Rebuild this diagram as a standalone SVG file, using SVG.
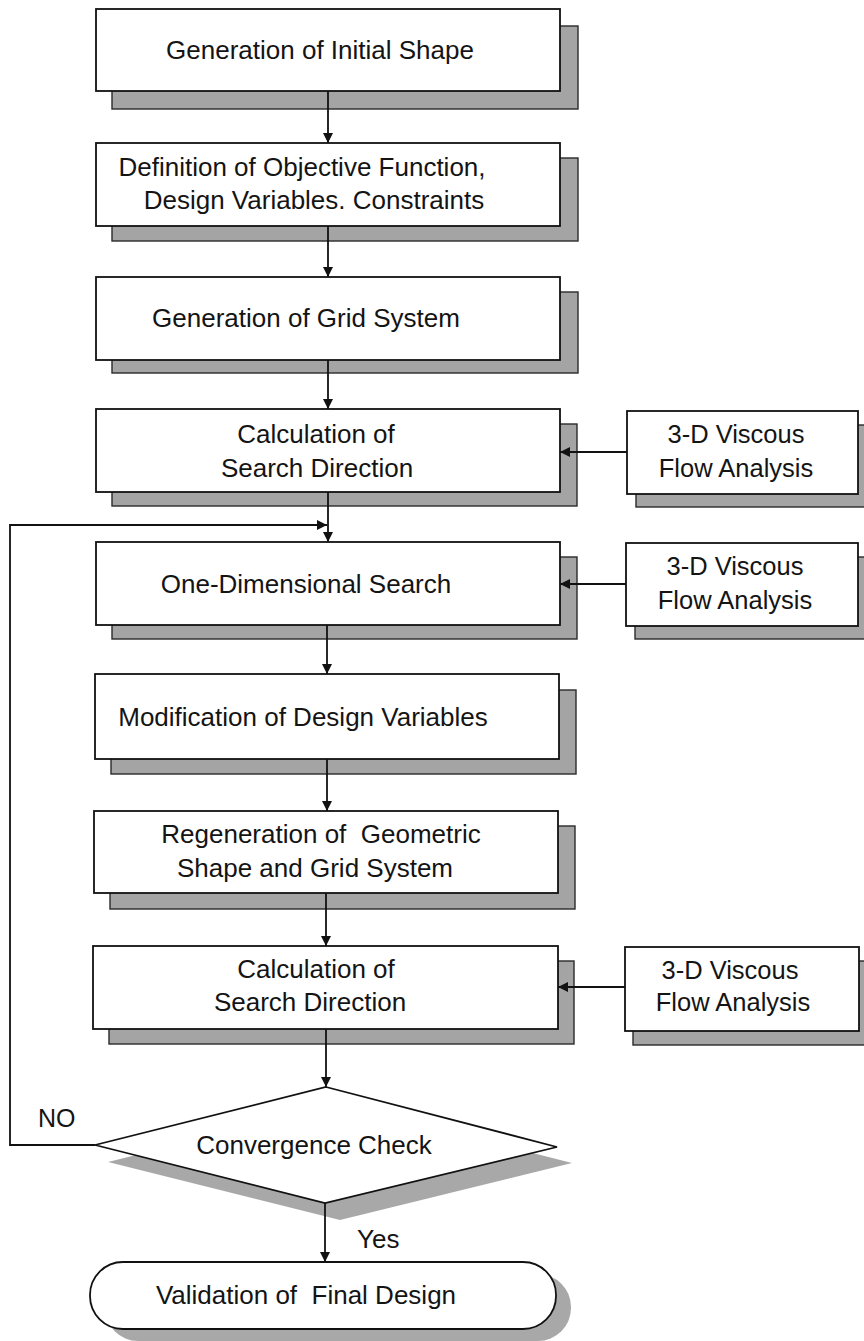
<svg xmlns="http://www.w3.org/2000/svg" width="864" height="1341" viewBox="0 0 864 1341">
<style>
  .box{fill:#fff;stroke:#111;stroke-width:1.8}
  .sh{fill:#a4a4a4;stroke:#2a2a2a;stroke-width:1.4}
  .shd{fill:#a8a8a8;stroke:none}
  .t{font-family:"Liberation Sans",Arial,sans-serif;font-size:26px;fill:#141414;text-anchor:middle}
  .ts{font-family:"Liberation Sans",Arial,sans-serif;font-size:25.5px;fill:#141414;text-anchor:middle}
  .lbl{font-family:"Liberation Sans",Arial,sans-serif;font-size:25px;fill:#141414}
  .c{fill:none;stroke:#111;stroke-width:1.8}
</style>
<defs>
  <marker id="ah" viewBox="0 0 10 10" refX="10" refY="5" markerWidth="10" markerHeight="10" markerUnits="userSpaceOnUse" orient="auto">
    <path d="M0,0 L10,5 L0,10 Z" fill="#111"/>
  </marker>
</defs>

<g id="n1">
  <rect class="sh" x="112" y="26" width="466" height="83"/>
  <rect class="box" x="96" y="9" width="464" height="82"/>
  <text class="t" x="320" y="59">Generation of Initial Shape</text>
</g>
<g id="n2">
  <rect class="sh" x="112" y="158" width="466" height="83"/>
  <rect class="box" x="96" y="143" width="464" height="83"/>
  <text class="t" x="302" y="176">Definition of Objective Function,</text>
  <text class="t" x="314" y="209">Design Variables. Constraints</text>
</g>
<g id="n3">
  <rect class="sh" x="112" y="292" width="466" height="81"/>
  <rect class="box" x="96" y="277" width="464" height="83"/>
  <text class="t" x="306" y="327">Generation of Grid System</text>
</g>
<g id="n4">
  <rect class="sh" x="112" y="424" width="465" height="82"/>
  <rect class="box" x="96" y="409" width="464" height="83"/>
  <text class="t" x="316" y="443">Calculation of</text>
  <text class="t" x="317" y="477">Search Direction</text>
</g>
<g id="s1">
  <rect class="sh" x="636" y="425" width="240" height="82"/>
  <rect class="box" x="627" y="411" width="231" height="83"/>
  <text class="ts" x="736" y="443">3-D Viscous</text>
  <text class="ts" x="736" y="477">Flow Analysis</text>
</g>
<g id="n5">
  <rect class="sh" x="112" y="557" width="465" height="82"/>
  <rect class="box" x="96" y="542" width="464" height="83"/>
  <text class="t" x="306" y="593">One-Dimensional Search</text>
</g>
<g id="s2">
  <rect class="sh" x="635" y="557" width="240" height="82"/>
  <rect class="box" x="626" y="543" width="232" height="83"/>
  <text class="ts" x="735" y="575">3-D Viscous</text>
  <text class="ts" x="735" y="609">Flow Analysis</text>
</g>
<g id="n6">
  <rect class="sh" x="111" y="690" width="465" height="84"/>
  <rect class="box" x="95" y="674" width="464" height="85"/>
  <text class="t" x="303" y="726">Modification of Design Variables</text>
</g>
<g id="n7">
  <rect class="sh" x="110" y="826" width="465" height="83"/>
  <rect class="box" x="94" y="811" width="464" height="82"/>
  <text class="t" x="321" y="843" xml:space="preserve">Regeneration of  Geometric</text>
  <text class="t" x="315" y="877">Shape and Grid System</text>
</g>
<g id="n8">
  <rect class="sh" x="109" y="961" width="465" height="83"/>
  <rect class="box" x="93" y="946" width="465" height="83"/>
  <text class="t" x="316" y="978">Calculation of</text>
  <text class="t" x="310" y="1011">Search Direction</text>
</g>
<g id="s3">
  <rect class="sh" x="633" y="961" width="240" height="84"/>
  <rect class="box" x="625" y="947" width="234" height="84"/>
  <text class="ts" x="730" y="979">3-D Viscous</text>
  <text class="ts" x="733" y="1011">Flow Analysis</text>
</g>
<g id="d1">
  <polygon class="shd" points="341,1104 572,1163 340,1220 108,1162"/>
  <polygon class="box" points="326,1087 557,1147 325,1203 95,1145"/>
  <text class="t" x="314" y="1154">Convergence Check</text>
</g>
<g id="t1">
  <rect class="shd" x="105" y="1274" width="466" height="67" rx="33" ry="33"/>
  <rect class="box" x="90" y="1262" width="466" height="67" rx="33" ry="33"/>
  <text class="t" x="306" y="1304" xml:space="preserve">Validation of  Final Design</text>
</g>

<g id="connectors">
  <line class="c" x1="328" y1="91" x2="328" y2="143" marker-end="url(#ah)"/>
  <line class="c" x1="328" y1="226" x2="328" y2="277" marker-end="url(#ah)"/>
  <line class="c" x1="328" y1="360" x2="328" y2="409" marker-end="url(#ah)"/>
  <line class="c" x1="627" y1="452" x2="560" y2="452" marker-end="url(#ah)"/>
  <line class="c" x1="328" y1="492" x2="328" y2="542" marker-end="url(#ah)"/>
  <polyline class="c" points="95,1145 10,1145 10,525 327,525" marker-end="url(#ah)"/>
  <line class="c" x1="626" y1="584" x2="560" y2="584" marker-end="url(#ah)"/>
  <line class="c" x1="327" y1="625" x2="327" y2="674" marker-end="url(#ah)"/>
  <line class="c" x1="327" y1="759" x2="327" y2="811" marker-end="url(#ah)"/>
  <line class="c" x1="326" y1="893" x2="326" y2="946" marker-end="url(#ah)"/>
  <line class="c" x1="625" y1="987" x2="558" y2="987" marker-end="url(#ah)"/>
  <line class="c" x1="326" y1="1029" x2="326" y2="1087" marker-end="url(#ah)"/>
  <line class="c" x1="325" y1="1203" x2="325" y2="1262" marker-end="url(#ah)"/>
  <text class="lbl" x="38" y="1127">NO</text>
  <text class="lbl" x="357" y="1248" style="font-size:26px">Yes</text>
</g>
</svg>
